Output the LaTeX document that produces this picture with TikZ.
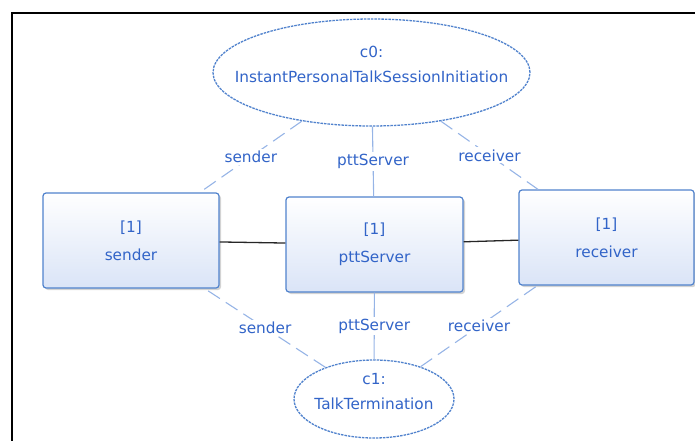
\documentclass[tikz,border=0pt]{standalone}
\usepackage{fontspec}
\setmainfont{DejaVu Sans}
\usetikzlibrary{shapes.geometric, shadows}
\definecolor{textblue}{RGB}{50, 100, 200}
\definecolor{edgeblue}{RGB}{80, 130, 205}
\definecolor{lineblue}{RGB}{150, 180, 230}
\definecolor{fillblue}{RGB}{218, 228, 247}

\begin{document}
\begin{tikzpicture}[x=1pt, y=-1pt,
  part/.style={draw=edgeblue, line width=1.2pt, rounded corners=3pt,
    top color=white, bottom color=fillblue,
    minimum width=176pt, minimum height=95pt, align=center, text=textblue,
    font=\fontsize{15.3}{28}\selectfont,
    drop shadow={shadow xshift=2pt, shadow yshift=-2pt, opacity=0.35}},
  collab/.style={ellipse, draw=edgeblue, line width=1.3pt,
    dash pattern=on 2.5pt off 1pt, fill=white, inner sep=0pt},
  ctext/.style={text=textblue, align=center, font=\fontsize{15.3}{25}\selectfont},
  role/.style={draw=lineblue, line width=1.1pt, dash pattern=on 14pt off 7pt},
  rolelbl/.style={fill=white, text=textblue, font=\fontsize{15.3}{18}\selectfont,
    inner sep=2pt},
  link/.style={draw=black!85, line width=1.3pt}]

  % frame
  \useasboundingbox (0,0) rectangle (695,441);
  \draw[line width=2pt] (12,441) -- (12,13) -- (695,13);

  % parts
  \node[part] (sender) at (131,240.5) {[1]\\sender};
  \node[part, minimum width=177pt] (pttServer) at (374.5,244.5) {[1]\\pttServer};
  \node[part, minimum width=175pt] (receiver) at (606.5,237.5) {[1]\\receiver};

  % collaborations
  \node[collab, minimum width=317pt, minimum height=107pt,
    label={[ctext, yshift=8pt]center:{c0:\\InstantPersonalTalkSessionInitiation}}]
    (c0) at (371.5,72.5) {};
  \node[collab, minimum width=160pt, minimum height=78pt,
    label={[ctext, yshift=7pt]center:{c1:\\TalkTermination}}]
    (c1) at (374,399) {};

  % connectors
  \draw[link] (sender) -- (pttServer);
  \draw[link] (pttServer) -- (receiver);

  % role bindings
  \draw[role] (c0) -- node[rolelbl] {sender} (sender);
  \draw[role, solid] (c0) -- node[rolelbl] {pttServer} (pttServer);
  \draw[role] (c0) -- node[rolelbl] {receiver} (receiver);
  \draw[role] (c1) -- node[rolelbl] {sender} (sender);
  \draw[role, solid] (c1) -- node[rolelbl] {pttServer} (pttServer);
  \draw[role] (c1) -- node[rolelbl] {receiver} (receiver);
\end{tikzpicture}
\end{document}
